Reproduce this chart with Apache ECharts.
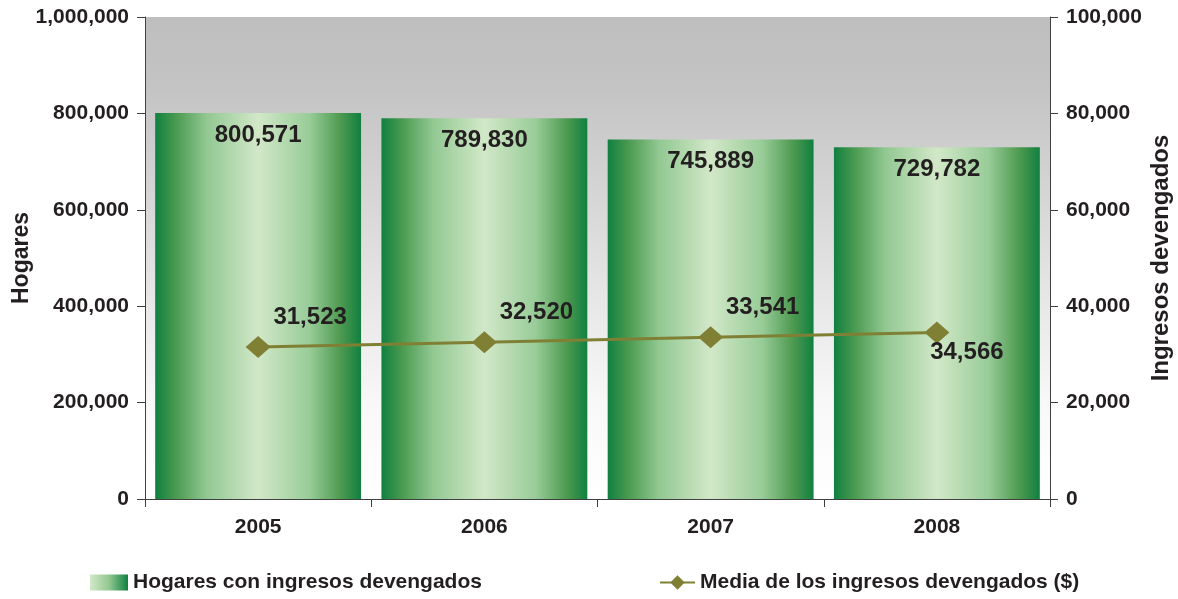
<!DOCTYPE html>
<html><head><meta charset="utf-8">
<script src="https://cdn.jsdelivr.net/npm/echarts@6/dist/echarts.min.js"></script>
<style>html,body{margin:0;padding:0;background:#fff}#c{width:1178px;height:599px}</style>
</head><body><div id="c"></div>
<script>
const categories = ['2005', '2006', '2007', '2008'];
const hogares = [800571, 789830, 745889, 729782];
const media = [31523, 32520, 33541, 34566];
const leftTicks = [0, 200000, 400000, 600000, 800000, 1000000];
const rightTicks = [0, 20000, 40000, 60000, 80000, 100000];

const FONT = '"Liberation Sans", Arial, sans-serif';
const TXT = '#231f20';
const fmt = v => v.toLocaleString('en-US');

const barGrad = new echarts.graphic.LinearGradient(0, 0, 1, 0, [
  {offset: 0, color: '#108040'},
  {offset: 0.1, color: '#4a9a50'},
  {offset: 0.25, color: '#92c892'},
  {offset: 0.5, color: '#d2e8c8'},
  {offset: 0.75, color: '#98cc98'},
  {offset: 0.9, color: '#4e9a50'},
  {offset: 1, color: '#108040'}
]);
const legendGrad = new echarts.graphic.LinearGradient(0, 0, 1, 0, [
  {offset: 0, color: '#d2e8c8'},
  {offset: 0.5, color: '#92c892'},
  {offset: 1, color: '#108040'}
]);

const lineLabelOffsets = [[52, -30], [52, -30], [52, -30], [30, 20]];

const chart = echarts.init(document.getElementById('c'), null, {renderer: 'canvas'});
chart.setOption({
  animation: false,
  textStyle: {fontFamily: FONT},
  grid: {
    left: 145, right: 128, top: 17, bottom: 100,
    outerBoundsMode: 'none', containLabel: false,
    show: true, borderWidth: 0,
    backgroundColor: new echarts.graphic.LinearGradient(0, 0, 0, 1, [
      {offset: 0, color: '#bebebe'},
      {offset: 0.15, color: '#c3c4c3'},
      {offset: 0.5, color: '#e0e0e0'},
      {offset: 0.8, color: '#f8f8f8'},
      {offset: 1, color: '#ffffff'}
    ])
  },
  legend: [
    {
      data: [{name: 'Hogares con ingresos devengados', icon: 'rect', itemStyle: {color: legendGrad}}],
      left: 90, top: 572, padding: 0, itemWidth: 38, itemHeight: 16, itemGap: 5,
      textStyle: {fontFamily: FONT, fontWeight: 'bold', fontSize: 21, color: TXT}
    },
    {
      data: ['Media de los ingresos devengados ($)'],
      left: 659, top: 572, padding: 0, itemWidth: 35, itemHeight: 18, itemGap: 4,
      textStyle: {fontFamily: FONT, fontWeight: 'bold', fontSize: 21, color: TXT}
    }
  ],
  xAxis: {
    type: 'category', data: categories,
    axisLine: {lineStyle: {color: '#404040', width: 1}},
    axisTick: {show: true, length: 8, lineStyle: {color: '#404040'}},
    axisLabel: {fontFamily: FONT, fontWeight: 'bold', fontSize: 21, color: TXT, margin: 18},
    splitLine: {show: false}
  },
  yAxis: [
    {
      type: 'value', min: 0, max: 1000000, interval: 200000,
      name: 'Hogares', nameLocation: 'middle', nameGap: 112, nameRotate: 90, nameMoveOverlap: false,
      nameTextStyle: {fontFamily: FONT, fontWeight: 'bold', fontSize: 23, color: TXT},
      axisLine: {show: true, lineStyle: {color: '#404040'}},
      axisTick: {show: true, length: 8, lineStyle: {color: '#404040'}},
      axisLabel: {fontFamily: FONT, fontWeight: 'bold', fontSize: 21, color: TXT, margin: 16,
        formatter: v => leftTicks.includes(v) ? fmt(v) : ''},
      splitLine: {show: false}
    },
    {
      type: 'value', min: 0, max: 100000, interval: 20000,
      name: 'Ingresos devengados', nameLocation: 'middle', nameGap: 99, nameRotate: 90, nameMoveOverlap: false,
      nameTextStyle: {fontFamily: FONT, fontWeight: 'bold', fontSize: 24, color: TXT},
      axisLine: {show: true, lineStyle: {color: '#404040'}},
      axisTick: {show: true, length: 8, lineStyle: {color: '#404040'}},
      axisLabel: {fontFamily: FONT, fontWeight: 'bold', fontSize: 21, color: TXT, margin: 16,
        formatter: v => rightTicks.includes(v) ? fmt(v) : ''},
      splitLine: {show: false}
    }
  ],
  series: [
    {
      name: 'Hogares con ingresos devengados', type: 'bar', yAxisIndex: 0,
      data: hogares, barCategoryGap: '9%',
      itemStyle: {color: barGrad},
      label: {show: true, position: 'insideTop', distance: 10, formatter: p => fmt(p.value),
        fontFamily: FONT, fontWeight: 'bold', fontSize: 24, color: TXT}
    },
    {
      name: 'Media de los ingresos devengados ($)', type: 'line', yAxisIndex: 1,
      data: media.map((v, i) => ({value: v, label: {offset: lineLabelOffsets[i]}})),
      symbol: 'diamond', symbolSize: [25, 22],
      lineStyle: {color: '#808035', width: 3},
      itemStyle: {color: '#808035'},
      label: {show: true, position: 'inside', formatter: p => fmt(p.value),
        fontFamily: FONT, fontWeight: 'bold', fontSize: 24, color: TXT}
    }
  ]
});
</script></body></html>
